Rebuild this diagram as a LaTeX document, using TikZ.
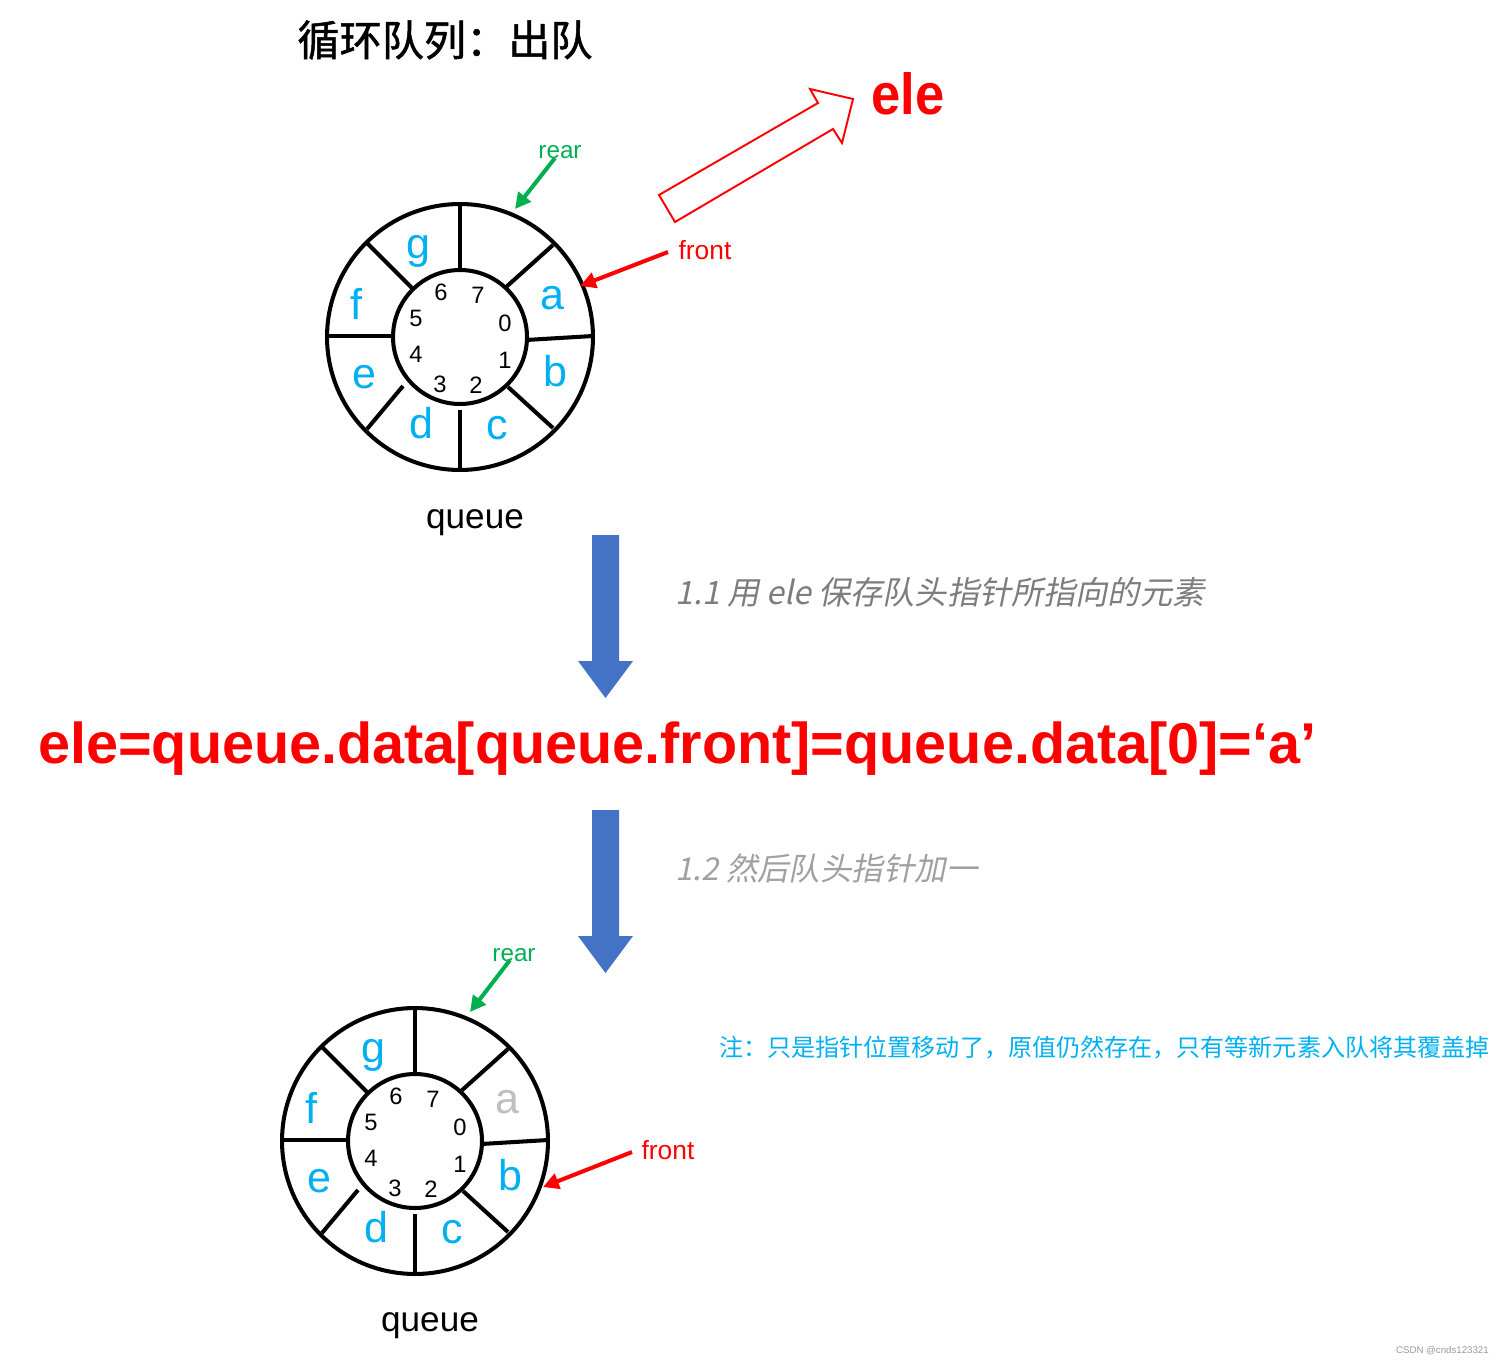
\documentclass[tikz,border=0pt]{standalone}
\usepackage{fontspec}
\setmainfont{Liberation Sans}
\newfontfamily\cjk{Noto Sans CJK SC}
\newfontfamily\cjktitle[FakeBold=1.2]{Noto Sans CJK SC}
\newfontfamily\cjkit[FakeSlant=0.2]{Noto Sans CJK SC}
\usetikzlibrary{arrows.meta}
\definecolor{segblue}{RGB}{0,176,240}
\definecolor{rearg}{RGB}{0,176,80}
\definecolor{arrblue}{RGB}{68,114,196}
\definecolor{fadea}{RGB}{191,191,191}
\definecolor{grayA}{RGB}{125,125,125}
\definecolor{grayB}{RGB}{160,160,160}
\newcommand\fs[1]{\fontsize{#1}{#1}\selectfont}
\tikzset{
  ringline/.style={line width=2.3pt, draw=black},
  segletter/.style={text=segblue, font=\fs{24.5pt}, inner sep=0pt},
  idx/.style={text=black, font=\fs{13.5pt}, inner sep=0pt},
  rearptr/.style={draw=rearg, line width=2.3pt, -{Triangle[length=9pt,width=9pt]}},
  frontptr/.style={draw=red, line width=2.3pt, -{Triangle[length=9pt,width=9pt]}},
  rearlbl/.style={text=rearg, font=\fs{13.8pt}, inner sep=0pt},
  frontlbl/.style={text=red, font=\fs{15pt}, inner sep=0pt},
  qlbl/.style={text=black, font=\fs{20pt}, inner sep=0pt},
  blockarrow/.style={fill=arrblue, draw=none}
}
\newcommand\ringdraw[4]{%
  \begin{scope}[shift={(#2,#3)}]
    \node[circle, ringline, minimum size=5.32cm, inner sep=0pt] (#1outer) at (0,0) {};
    \node[circle, ringline, minimum size=2.68cm, inner sep=0pt] (#1inner) at (0,0) {};
    \draw[ringline] (0,67) -- (0,133);
    \draw[ringline] (45,49) -- (93,92);
    \draw[ringline] (66,-3) -- (133,1);
    \draw[ringline] (48,-50) -- (93,-91);
    \draw[ringline] (0,-73) -- (0,-133);
    \draw[ringline] (-57,-49) -- (-93,-92);
    \draw[ringline] (-67,1) -- (-133,1);
    \draw[ringline] (-47,48) -- (-93,94);
    \node[segletter, text=#4] (#1a) at (92,39) {a};
    \foreach \t/\x/\y in {b/95/-34, c/37/-91, d/-39/-86, e/-96/-40, f/-104/33, g/-42/86}
      \node[segletter] (#1\t) at (\x,\y) {\t};
    \foreach \t/\x/\y in {0/45/14, 1/45/-23, 2/16/-48, 3/-20/-47, 4/-44/-17, 5/-44/19, 6/-19/45, 7/18/42}
      \node[idx] (#1n\t) at (\x,\y) {\t};
  \end{scope}%
}
\begin{document}
\begin{tikzpicture}[x=0.02cm, y=0.02cm]
  \fill[white] (0,0) rectangle (1504,-1365);
  \useasboundingbox (0,0) rectangle (1504,-1365);

  % title
  \node[font=\cjktitle\fs{24pt}, inner sep=0pt] (title) at (445,-40) {循环队列：出队};

  % top ring
  \ringdraw{T}{460}{-337}{segblue}
  \node[qlbl] (q1) at (475,-523) {queue};
  \node[rearlbl] (rear1) at (560,-152) {rear};
  \coordinate (r1s) at (555,-158);
  \coordinate (r1e) at (515,-209);
  \draw[rearptr] (r1s) -- (r1e);
  \node[frontlbl] (front1) at (705,-250) {front};
  \coordinate (f1s) at (668,-252);
  \coordinate (f1e) at (580,-286);
  \draw[frontptr] (f1s) -- (f1e);

  % hollow arrow and ele
  \draw[red, line width=1.1pt, line join=miter]
    (659,-195) -- (818,-103) -- (810,-89) -- (853,-99) -- (842,-143) -- (833,-129) -- (675,-222) -- cycle;
  \node[text=red, inner sep=0pt] (ele) at (908,-94) {\resizebox{1.46cm}{0.84cm}{\bfseries ele}};

  % first block arrow
  \fill[blockarrow] (592,-535) -- (619,-535) -- (619,-661) -- (633,-661) -- (605.5,-698) -- (578,-661) -- (592,-661) -- cycle;
  \node[anchor=west, text=grayA, font=\cjkit\fs{18.3pt}, inner sep=0pt] (s1) at (675,-592) {1.1 用 ele 保存队头指针所指向的元素};

  % formula
  \node[anchor=west, text=red, inner sep=0pt] (formula) at (38,-749)
    {\resizebox{25.56cm}{!}{\bfseries ele=queue.data[queue.front]=queue.data[0]=‘a’}};

  % second block arrow
  \fill[blockarrow] (592,-810) -- (619,-810) -- (619,-936) -- (633,-936) -- (605.5,-973) -- (578,-936) -- (592,-936) -- cycle;
  \node[anchor=west, text=grayB, font=\cjkit\fs{17.9pt}, inner sep=0pt] (s2) at (675,-868) {1.2 然后队头指针加一};

  % bottom ring
  \ringdraw{B}{415}{-1141}{fadea}
  \node[qlbl] (q2) at (430,-1326) {queue};
  \node[rearlbl] (rear2) at (514,-955) {rear};
  \coordinate (r2s) at (510,-960);
  \coordinate (r2e) at (470,-1012);
  \draw[rearptr] (r2s) -- (r2e);
  \node[frontlbl] (front2) at (668,-1150) {front};
  \coordinate (f2s) at (632,-1152);
  \coordinate (f2e) at (543,-1187);
  \draw[frontptr] (f2s) -- (f2e);

  % note
  \node[anchor=west, text=segblue, font=\cjk\fs{13.7pt}, inner sep=0pt] (note) at (719,-1048)
    {注：只是指针位置移动了，原值仍然存在，只有等新元素入队将其覆盖掉};

  % watermark
  \node[anchor=east, text=black!40, font=\fs{5.5pt}, inner sep=0pt] (wm) at (1489,-1351) {CSDN @cnds123321};
\end{tikzpicture}
\end{document}
